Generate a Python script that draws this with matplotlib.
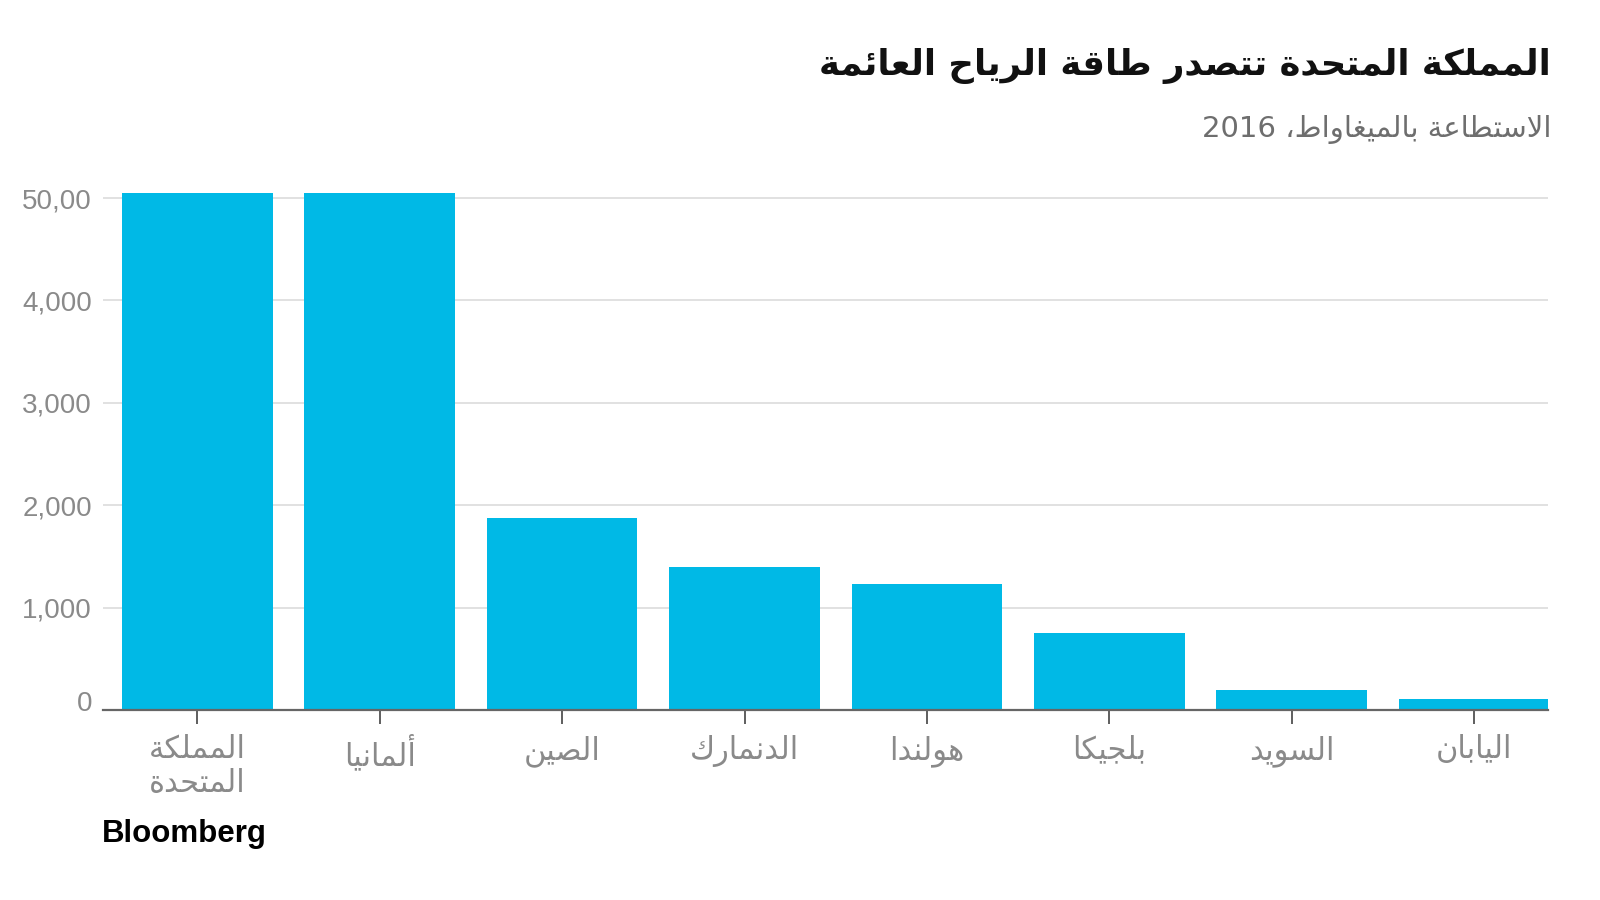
import re
import matplotlib
matplotlib.use("Agg")
import matplotlib.pyplot as plt
from matplotlib.transforms import ScaledTranslation

# ---------------- data ----------------
categories = ["المملكة\nالمتحدة", "ألمانيا", "الصين", "الدنمارك", "هولندا", "بلجيكا", "السويد", "اليابان"]
values = [5050, 5050, 1875, 1396, 1235, 755, 195, 105]
ytick_values = [0, 1000, 2000, 3000, 4000, 5000]
ytick_labels = ["0", "1,000", "2,000", "3,000", "4,000", "50,00"]
title = "المملكة المتحدة تتصدر طاقة الرياح العائمة"
subtitle = "الاستطاعة بالميغاواط، 2016"
source = "Bloomberg"

# ------------- minimal Arabic shaping (presentation forms) -------------
FORMS = {
    'ا': (0xFE8D, 0xFE8E), 'أ': (0xFE83, 0xFE84), 'ة': (0xFE93, 0xFE94),
    'د': (0xFEA9, 0xFEAA), 'ر': (0xFEAD, 0xFEAE), 'و': (0xFEED, 0xFEEE),
    'ئ': (0xFE89, 0xFE8A, 0xFE8B, 0xFE8C), 'ب': (0xFE8F, 0xFE90, 0xFE91, 0xFE92),
    'ت': (0xFE95, 0xFE96, 0xFE97, 0xFE98), 'ج': (0xFE9D, 0xFE9E, 0xFE9F, 0xFEA0),
    'ح': (0xFEA1, 0xFEA2, 0xFEA3, 0xFEA4), 'س': (0xFEB1, 0xFEB2, 0xFEB3, 0xFEB4),
    'ص': (0xFEB9, 0xFEBA, 0xFEBB, 0xFEBC), 'ط': (0xFEC1, 0xFEC2, 0xFEC3, 0xFEC4),
    'ع': (0xFEC9, 0xFECA, 0xFECB, 0xFECC), 'غ': (0xFECD, 0xFECE, 0xFECF, 0xFED0),
    'ق': (0xFED5, 0xFED6, 0xFED7, 0xFED8), 'ك': (0xFED9, 0xFEDA, 0xFEDB, 0xFEDC),
    'ل': (0xFEDD, 0xFEDE, 0xFEDF, 0xFEE0), 'م': (0xFEE1, 0xFEE2, 0xFEE3, 0xFEE4),
    'ن': (0xFEE5, 0xFEE6, 0xFEE7, 0xFEE8), 'ه': (0xFEE9, 0xFEEA, 0xFEEB, 0xFEEC),
    'ي': (0xFEF1, 0xFEF2, 0xFEF3, 0xFEF4),
}
LAM_ALEF = {'ا': (0xFEFB, 0xFEFC), 'أ': (0xFEF7, 0xFEF8)}


def _shape_line(s):
    units = []
    i = 0
    while i < len(s):
        c = s[i]
        if c == 'ل' and i + 1 < len(s) and s[i + 1] in LAM_ALEF:
            units.append(('LA', s[i + 1]))
            i += 2
        else:
            units.append(('C', c))
            i += 1

    def is_ar(u):
        return u[0] == 'LA' or u[1] in FORMS

    def joins_left(u):
        return u[0] == 'C' and u[1] in FORMS and len(FORMS[u[1]]) == 4

    out = []
    for k, u in enumerate(units):
        prev = units[k - 1] if k > 0 else None
        nxt = units[k + 1] if k + 1 < len(units) else None
        right = prev is not None and joins_left(prev)
        if u[0] == 'LA':
            out.append(chr(LAM_ALEF[u[1]][1 if right else 0]))
            continue
        c = u[1]
        if c not in FORMS:
            out.append(c)
            continue
        f = FORMS[c]
        left = len(f) == 4 and nxt is not None and is_ar(nxt)
        if right and left:
            g = f[3]
        elif right:
            g = f[1]
        elif left:
            g = f[2]
        else:
            g = f[0]
        out.append(chr(g))
    vis = ''.join(out)[::-1]
    vis = re.sub(r'[0-9A-Za-z.,]+', lambda m: m.group(0)[::-1], vis)
    return vis


def ar(s):
    return "\n".join(_shape_line(line) for line in s.split("\n"))


# ---------------- figure ----------------
BAR = "#00B9E6"
GRID = "#D9D9D9"
LABEL = "#8A8A8A"
AR_FONT = ["DejaVu Sans"]
NUM_FONT = ["Liberation Sans", "DejaVu Sans"]

fig = plt.figure(figsize=(16, 9), dpi=100)
fig.patch.set_facecolor("white")

# axes: x from 103 px to 1548 px, y zero at 710 px
ymax = 5200
ax = fig.add_axes([103 / 1600, 1 - 710 / 900, (1548 - 103) / 1600, (ymax * 0.1024) / 900])

x = list(range(len(categories)))
ax.bar(x, values, width=0.826, color=BAR, zorder=3)

ax.set_xlim(-0.517, 7.405)
ax.set_ylim(0, ymax)

for v in ytick_values[1:]:
    ax.axhline(v, color=GRID, linewidth=1.1, zorder=1)

for s in ["top", "right", "left"]:
    ax.spines[s].set_visible(False)
ax.spines["bottom"].set_color("#666666")
ax.spines["bottom"].set_linewidth(1.6)
ax.spines["bottom"].set_zorder(4)

ax.set_yticks(ytick_values)
ax.set_yticklabels(ytick_labels, fontfamily=NUM_FONT, fontsize=20, color=LABEL)
ax.tick_params(axis="y", length=0, pad=8)
# "0" label sits slightly above the axis line
ylabs = ax.get_yticklabels()
ylabs[0].set_transform(ylabs[0].get_transform() + ScaledTranslation(0, 9 / 100, fig.dpi_scale_trans))

ax.set_xticks(x)
ax.set_xticklabels([ar(c) for c in categories], fontfamily=AR_FONT, fontsize=22,
                   color=LABEL, linespacing=1.2)
ax.tick_params(axis="x", length=10, width=1.1, color="#333333", pad=8)

# title & subtitle (right aligned)
fig.text(1551 / 1600, 1 - 66 / 900, ar(title), ha="right", va="center",
         fontfamily=AR_FONT, fontweight="bold", fontsize=25.5, color="#111111")
fig.text(1551 / 1600, 1 - 129 / 900, ar(subtitle), ha="right", va="center",
         fontfamily=AR_FONT, fontsize=21, color="#6E6E6E")

fig.text(102 / 1600, 1 - 834 / 900, source, ha="left", va="center",
         fontfamily=NUM_FONT, fontweight="bold", fontsize=22.5, color="#000000")

fig.savefig("out.png", dpi=100, facecolor="white")
